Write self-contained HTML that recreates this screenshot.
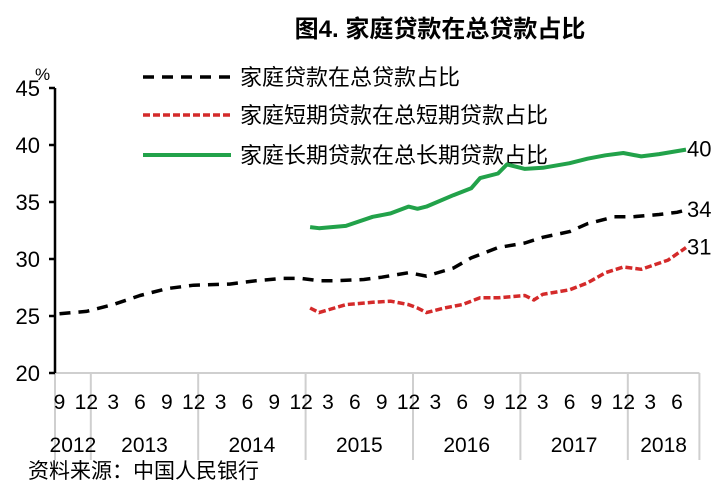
<!DOCTYPE html>
<html><head><meta charset="utf-8"><style>
body{margin:0;background:#fff;}
svg text{font-family:"Liberation Sans","Noto Sans CJK SC",sans-serif;}
</style></head><body>
<svg width="720" height="486" viewBox="0 0 720 486">
<text x="440" y="37" text-anchor="middle" font-size="24" font-weight="bold" fill="#000">图4. 家庭贷款在总贷款占比</text>
<g id="legend">
<g><line x1="143" y1="77" x2="231" y2="77" stroke="#000" stroke-width="3.5" stroke-dasharray="11,8"/><text x="240" y="85" font-size="22">家庭贷款在总贷款占比</text></g>
<g><line x1="143" y1="115" x2="231" y2="115" stroke="#d42a2a" stroke-width="3.5" stroke-dasharray="7,3"/><text x="240" y="123" font-size="22">家庭短期贷款在总短期贷款占比</text></g>
<g><line x1="143" y1="155" x2="231" y2="155" stroke="#22a24a" stroke-width="4"/><text x="240" y="163" font-size="22">家庭长期贷款在总长期贷款占比</text></g>
</g>
<g id="axes"></g>
<g id="series"></g>
<text x="28" y="478" font-size="21" fill="#000">资料来源：中国人民银行</text>
</svg>
<script>
const yTicks=[20,25,30,35,40,45];
const monthLabels=["9","12","3","6","9","12","3","6","9","12","3","6","9","12","3","6","9","12","3","6","9","12","3","6"];
const monthLabelIdx=[0,3,6,9,12,15,18,21,24,27,30,33,36,39,42,45,48,51,54,57,60,63,66,69];
const years=["2012","2013","2014","2015","2016","2017","2018"];
const yearBounds=[-1,3,15,27,39,51,63,71];
const totalIdx=[0,3,6,9,12,15,19,22,25,27,29,31,34,36,39,41,44,46,49,52,54,57,59,62,64,67,69,70];
const totalVals=[25.2,25.4,26.0,26.8,27.4,27.7,27.8,28.1,28.3,28.3,28.1,28.1,28.2,28.4,28.8,28.5,29.2,30.1,31.0,31.4,31.9,32.4,33.1,33.7,33.7,33.9,34.1,34.3];
const shortIdx=[28,29,32,35,37,39,40,41,43,45,47,49,52,53,54,57,59,61,63,65,68,70];
const shortVals=[25.7,25.3,26.0,26.2,26.3,26.0,25.7,25.3,25.7,26.0,26.6,26.6,26.8,26.4,26.9,27.3,27.9,28.8,29.3,29.1,29.9,31.0];
const longIdx=[28,29,32,35,37,39,40,41,44,46,47,49,50,52,54,57,59,61,63,65,67,70];
const longVals=[32.8,32.7,32.9,33.7,34.0,34.6,34.4,34.6,35.6,36.2,37.1,37.5,38.3,37.9,38.0,38.4,38.8,39.1,39.3,39.0,39.2,39.6];
const endLabels=["34","31","40"];

const NS="http://www.w3.org/2000/svg";
const X0=55,MW=8.95,Y0=373,YS=57/5;
function xm(i){return X0+(i+0.5)*MW;}
function xb(i){return X0+(i+1)*MW;}
function yv(v){return Y0-(v-20)*YS;}
function mk(tag,attrs,parent){const e=document.createElementNS(NS,tag);for(const k in attrs)e.setAttribute(k,attrs[k]);parent.appendChild(e);return e;}
const ax=document.getElementById('axes'),sr=document.getElementById('series');

let xl=mk('line',{x1:X0,y1:Y0,x2:xb(71),y2:Y0,stroke:'#cfcfcf','stroke-width':2},ax);


yearBounds.forEach((b,k)=>{
 const x=k===0?X0:xb(b);
 const l=mk('line',{x1:x,y1:Y0,x2:x,y2:460,stroke:'#cfcfcf','stroke-width':2},ax);
 
 
});
years.forEach((y,k)=>{
 const a=k===0?X0:xb(yearBounds[k]),b=xb(yearBounds[k+1]);
 const t=mk('text',{x:(a+b)/2,y:452,'text-anchor':'middle','font-size':21},ax);t.textContent=y;
 
 
});
monthLabels.forEach((m,k)=>{
 const t=mk('text',{x:xm(monthLabelIdx[k]),y:409,'text-anchor':'middle','font-size':21},ax);t.textContent=m;
 
 
});
let yl=mk('line',{x1:X0,y1:yv(45),x2:X0,y2:Y0,stroke:'#000','stroke-width':2.5},ax);


yTicks.forEach(v=>{
 mk('line',{x1:X0-6,y1:yv(v),x2:X0,y2:yv(v),stroke:'#000','stroke-width':2.5},ax);
 const t=mk('text',{x:40,y:yv(v)+8,'text-anchor':'end','font-size':22},ax);t.textContent=v;
 
 
});
let pc=mk('text',{x:35,y:80,'font-size':17},ax);pc.textContent='%';



function path(idx,vals,stroke,dash,w,name){
 const d=idx.map((i,k)=>(k?'L':'M')+xm(i).toFixed(1)+','+yv(vals[k]).toFixed(1)).join(' ');
 const p=mk('path',{d:d,fill:'none',stroke:stroke,'stroke-width':w,'stroke-dasharray':dash,'stroke-linejoin':'round'},sr);
 
 
}
path(longIdx,longVals,'#22a24a','none',4,'series-long-term');
path(shortIdx,shortVals,'#d42a2a','7,3',3.5,'series-short-term');
path(totalIdx,totalVals,'#000','11,8',3.5,'series-total');
[[totalIdx,totalVals,endLabels[0]],[shortIdx,shortVals,endLabels[1]],[longIdx,longVals,endLabels[2]]].forEach(s=>{
 const i=s[0][s[0].length-1],v=s[1][s[1].length-1];
 const t=mk('text',{x:xm(i)+1,y:yv(v)+7,'font-size':22},sr);t.textContent=s[2];
 
 
});
</script>
</body></html>
